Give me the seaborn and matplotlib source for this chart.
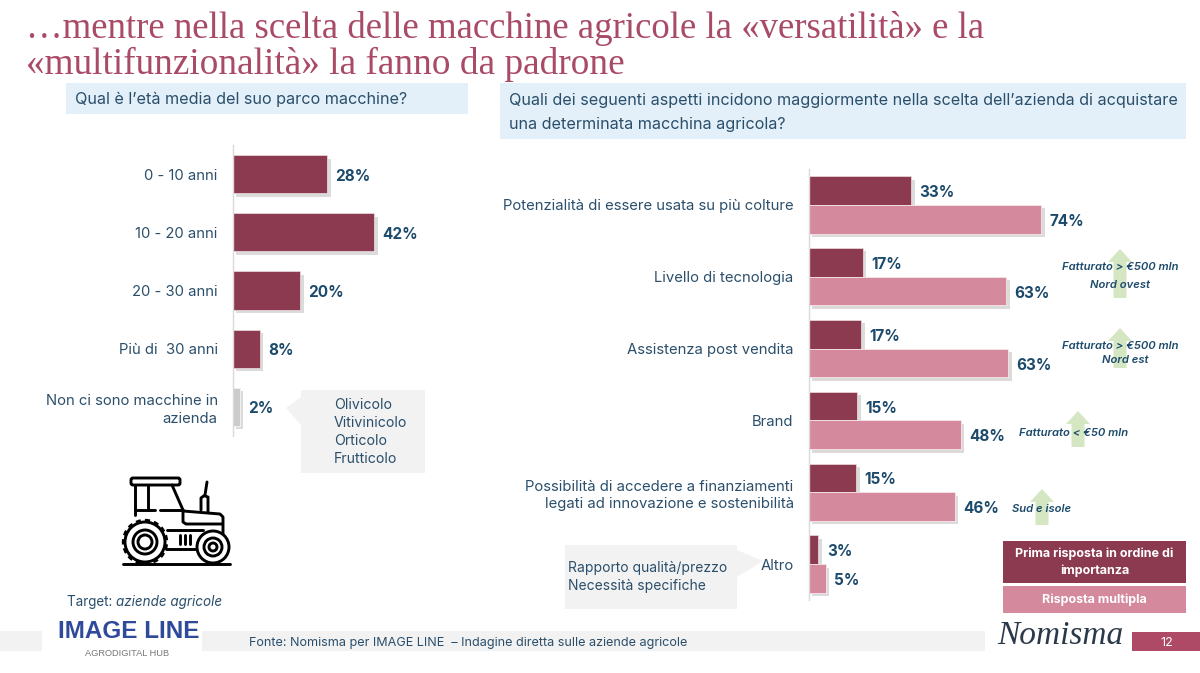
import matplotlib
matplotlib.use("Agg")
import matplotlib.pyplot as plt
import matplotlib.patheffects as pe
from matplotlib.patches import Rectangle, Polygon, Circle, FancyBboxPatch
import pandas as pd
import seaborn as sns

W, H = 1200, 673
DARK = "#8B3A50"; LIGHT = "#D4899C"; GREY_BAR = "#CBCBCB"; NAVY = "#1C4A6B"; TXT = "#2B4F6B"
TITLE = "#A94A66"; BAND = "#E3F0F9"; GREY = "#F2F2F2"; GREEN = "#D5E6C3"

age_categories = ["0 - 10 anni", "10 - 20 anni", "20 - 30 anni", "Più di  30 anni",
                  "Non ci sono macchine in\nazienda"]
age_values = [28, 42, 20, 8, 2]
age_colors = [DARK, DARK, DARK, DARK, GREY_BAR]

aspect_categories = ["Potenzialità di essere usata su più colture", "Livello di tecnologia",
                     "Assistenza post vendita", "Brand",
                     "Possibilità di accedere a finanziamenti\nlegati ad innovazione e sostenibilità",
                     "Altro"]
first_answer = [32.6, 17.2, 16.6, 15.3, 15.0, 3.0]
multi_answer = [74.0, 62.8, 63.4, 48.4, 46.4, 5.4]
series_names = ["Prima risposta in ordine di importanza", "Risposta multipla"]

sns.set_theme(style="white")
plt.rcParams["font.family"] = ["Inter", "DejaVu Sans"]

fig = plt.figure(figsize=(12, 6.73), dpi=100, facecolor="white")

def rect(x0, y0, x1, y1):
    return [x0 / W, 1 - y1 / H, (x1 - x0) / W, (y1 - y0) / H]

bg = fig.add_axes([0, 0, 1, 1], zorder=0)
bg.set_xlim(0, W); bg.set_ylim(H, 0); bg.axis("off")
top = fig.add_axes([0, 0, 1, 1], zorder=3)
top.set_xlim(0, W); top.set_ylim(H, 0); top.axis("off"); top.patch.set_alpha(0)

def box(ax, x0, y0, x1, y1, c, **k):
    ax.add_patch(Rectangle((x0, y0), x1 - x0, y1 - y0, fc=c, ec="none", **k))

# Title
bg.text(26, 29, "…mentre nella scelta delle macchine agricole la «versatilità» e la",
        family="Liberation Serif", fontsize=26.5, color=TITLE, va="center")
bg.text(26, 64, "«multifunzionalità» la fanno da padrone",
        family="Liberation Serif", fontsize=26.8, color=TITLE, va="center")

# Question bands
box(bg, 66, 83, 468, 114, BAND)
box(bg, 500, 83, 1186, 139, BAND)
bg.text(75, 99, "Qual è l’età media del suo parco macchine?", fontsize=11.65, color=TXT, va="center")
bg.text(509, 101, "Quali dei seguenti aspetti incidono maggiormente nella scelta dell’azienda di acquistare",
        fontsize=11.65, color=TXT, va="center")
bg.text(509, 124, "una determinata macchina agricola?", fontsize=11.65, color=TXT, va="center")

shadow = [pe.withSimplePatchShadow(offset=(2.5, -2.5), shadow_rgbFace="#999999", alpha=0.35), pe.Normal()]

# Left chart
axl = fig.add_axes(rect(233, 145, 480, 436), zorder=1)
axl.patch.set_alpha(0)
dfl = pd.DataFrame({"cat": age_categories, "val": age_values})
sns.barplot(data=dfl, x="val", y="cat", hue="cat", palette=age_colors, legend=False,
            width=0.655, saturation=1, ax=axl, edgecolor="white", linewidth=0.4)
axl.set_xlim(0, 247 / 3.36)

# Right chart
axr = fig.add_axes(rect(809, 169, 1180, 600), zorder=1)
axr.patch.set_alpha(0)
dfr = pd.DataFrame({
    "cat": aspect_categories * 2,
    "serie": [series_names[0]] * 6 + [series_names[1]] * 6,
    "val": first_answer + multi_answer,
})
sns.barplot(data=dfr, x="val", y="cat", hue="serie", palette=[DARK, LIGHT], legend=False,
            width=0.8, saturation=1, ax=axr, edgecolor="white", linewidth=0.4)
axr.set_xlim(0, 371 / 3.14)

for ax in (axl, axr):
    ax.set_xlabel(""); ax.set_ylabel("")
    ax.set_xticks([])
    sns.despine(ax=ax, top=True, right=True, bottom=True, left=False)
    ax.spines["left"].set_color("#D9D9D9"); ax.spines["left"].set_linewidth(1)
    ax.tick_params(axis="y", length=0, pad=11, labelsize=10.7, labelcolor=TXT)
    for t in ax.get_yticklabels():
        t.set_linespacing(1.3)
    for c in ax.containers:
        for p in c:
            p.set_path_effects(shadow)
        for t in ax.bar_label(c, fmt="%.0f%%", padding=6, fontsize=11, fontweight="bold", color=NAVY):
            t.xyann = (6, -1.5)

# Callouts
box(bg, 301, 390, 425, 473, GREY)
bg.add_patch(Polygon([(286, 408), (301, 397), (301, 425)], fc=GREY, ec="none"))
for y, s in zip([405, 423, 441, 459], ["Olivicolo", "Vitivinicolo", "Orticolo", "Frutticolo"]):
    bg.text(334, y, s, fontsize=10.2, color=TXT, va="center")
box(bg, 565, 545, 737, 609, GREY)
bg.add_patch(Polygon([(763, 561), (737, 550), (737, 577)], fc=GREY, ec="none"))
bg.text(568, 568, "Rapporto qualità/prezzo", fontsize=10, color=TXT, va="center")
bg.text(568, 586, "Necessità specifiche", fontsize=10, color=TXT, va="center")

# Green arrows
for cx, tip, bottom in [(1120, 249, 298), (1120, 328, 368), (1078, 411, 447), (1042, 489, 525)]:
    bg.add_patch(Polygon([(cx, tip), (cx + 12, tip + 13), (cx + 6.5, tip + 13), (cx + 6.5, bottom),
                          (cx - 6.5, bottom), (cx - 6.5, tip + 13), (cx - 12, tip + 13)],
                         fc=GREEN, ec="none"))
for x, y, s in [(1120.5, 267, "Fatturato > €500 mln"), (1120, 285, "Nord ovest"),
                (1120.5, 346, "Fatturato > €500 mln"), (1125, 360, "Nord est"),
                (1074, 433, "Fatturato < €50 mln"), (1042, 509, "Sud e isole")]:
    top.text(x, y, s, fontsize=8.1, color=NAVY, style="italic", fontweight="semibold",
             ha="center", va="center")

# Legend boxes
box(bg, 1003, 541, 1186, 583, DARK)
box(bg, 1003, 586, 1186, 613, LIGHT)
bg.text(1094.5, 554, "Prima risposta in ordine di", fontsize=9, fontweight="bold", color="white", ha="center", va="center")
bg.text(1094.5, 571, "importanza", fontsize=9, fontweight="bold", color="white", ha="center", va="center")
bg.text(1094.5, 600, "Risposta multipla", fontsize=9, fontweight="bold", color="white", ha="center", va="center")

# Tractor icon
ink = dict(color="black", lw=2.1, solid_capstyle="round", solid_joinstyle="round")
bg.add_patch(FancyBboxPatch((132, 479), 47, 5, boxstyle="round,pad=1,rounding_size=2",
                            fc="white", ec="black", lw=2.1))
for xs, ys in [([135, 135], [485, 515]), ([148, 148], [485, 510]), ([135, 155], [510, 510]),
               ([160, 183], [510, 510]), ([172, 183, 183, 186, 222], [485, 510, 522, 524, 524]),
               ([183, 220, 223, 223], [511, 514, 517, 535]),
               ([207, 205, 201, 201], [482, 495, 498, 510]), ([205, 208, 208], [496, 497, 512]),
               ([166, 198], [549, 549]), ([123, 230], [564, 564]), ([167, 203], [530, 530]),
               ([180, 180], [535, 544]), ([185, 185], [535, 544]), ([190, 190], [535, 544])]:
    bg.plot(xs, ys, **ink)
for cx, cy, rs in [(145, 542, (20, 12, 7)), (213, 547, (16, 9, 4))]:
    for r in rs:
        bg.add_patch(Circle((cx, cy), r, fc="white" if r == rs[0] else "none", ec="black", lw=2.1, zorder=3))
bg.add_patch(Circle((145, 542), 21.5, fc="none", ec="black", lw=2.4, ls=(0, (1.5, 1.2)), zorder=3))

bg.text(67, 602, "Target: ", fontsize=9.7, color=TXT, va="center")
bg.text(116, 602, "aziende agricole", fontsize=9.7, color=TXT, style="italic", va="center")

# Footer
box(bg, 0, 631, 42, 651, GREY)
box(bg, 202, 631, 985, 651, GREY)
box(bg, 1132, 632, 1200, 651, "#AE4A65")
bg.text(1167, 643, "12", fontsize=9, color="white", ha="center", va="center")
bg.text(249, 643, "Fonte: Nomisma per IMAGE LINE  – Indagine diretta sulle aziende agricole",
        fontsize=9.1, color=TXT, va="center")
bg.text(58, 632, "IMAGE LINE", family="Liberation Sans", fontweight="bold", fontsize=17.5, color="#2F4A9A", va="center")
bg.text(85, 653, "AGRODIGITAL HUB", family="Liberation Sans", fontsize=6.7, color="#777777", va="center")
bg.text(997, 636, "Nomisma", family="Liberation Serif", style="italic", fontsize=24, color="#2B3A4A", va="center")

fig.savefig("out.png", dpi=100, facecolor="white")
